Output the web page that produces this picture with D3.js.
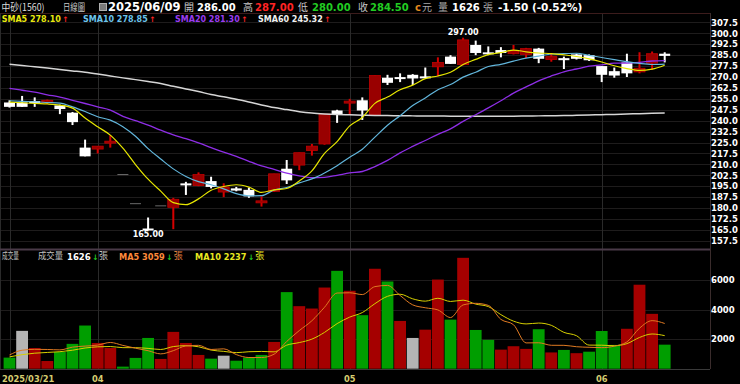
<!DOCTYPE html>
<html>
<head>
<meta charset="utf-8">
<script src="https://cdn.jsdelivr.net/npm/d3@7/dist/d3.min.js"></script>
<style>
html,body{margin:0;padding:0;background:#000;overflow:hidden;}
svg{display:block;}
</style>
</head>
<body>
<svg id="chart" width="740" height="384"></svg>
<script>
// ---------------- DATA ----------------
const stockName = "中砂(1560)";
const dates = [
 "2025/03/21","2025/03/24","2025/03/25","2025/03/26","2025/03/27","2025/03/28","2025/03/31",
 "2025/04/01","2025/04/02","2025/04/07","2025/04/08","2025/04/09","2025/04/10","2025/04/11",
 "2025/04/14","2025/04/15","2025/04/16","2025/04/17","2025/04/18","2025/04/21","2025/04/22",
 "2025/04/23","2025/04/24","2025/04/25","2025/04/28","2025/04/29","2025/04/30",
 "2025/05/02","2025/05/05","2025/05/06","2025/05/07","2025/05/08","2025/05/09","2025/05/12",
 "2025/05/13","2025/05/14","2025/05/15","2025/05/16","2025/05/19","2025/05/20","2025/05/21",
 "2025/05/22","2025/05/23","2025/05/26","2025/05/27","2025/05/28","2025/05/29",
 "2025/06/02","2025/06/03","2025/06/04","2025/06/05","2025/06/06","2025/06/09"
];
const opens  = [252.5,252.5,253,252.5,250.5,245.5,221.5,220.5,225,203,183,165.5,181.5,180.5,196.5,195.5,198.5,191,193.5,192.5,184,191.5,207,209.5,219.5,224,247,252.5,254,244,269.5,269.5,271.5,270,277,284,278.5,292,286.5,288.5,286,285.5,289.5,282,282.5,285.5,285,277.5,274,280,273.5,279.5,286];
const highs  = [254,257,256,254.5,251,246,227,222.5,230,203,183,173.5,181.5,187,198,204.5,201.5,197,194.5,194,188,203.5,213,218,224,244.5,247.5,255,256,271,271.5,272.5,272,276.5,283.5,285,297,295,291,290.5,292,290,290,286.5,284,286,285.5,277.5,276.5,286,287,287.5,287];
const lows   = [249,249.5,249.5,251.5,244.5,237,215.5,217.5,221.5,203,183,165,181.5,165.5,189,195,193.5,187.5,191.5,187,181,191,196.5,206,216,223.5,238.5,244.5,240.5,243.5,264.5,266.5,264.5,269.5,270.5,279,278,285,285,283.5,285.5,283,279.5,280.5,275.5,282,281,266.5,269.5,270,272.5,275,280];
const closes = [249.5,249.5,252.5,254,248,239,215.5,222.5,225.5,203,183,165,181.5,186,196,203,194.5,194.5,192,188,184.5,203.5,199,218,222.5,244.5,244,253,247,271,266,269,269,269.5,280,279,295.5,286.5,286,286.5,288,289.5,282.5,284,282,282.5,281.5,271.5,271,272.5,276,286,284.5];
const closeBefore = 251.0;
const volumes = [750,2560,1400,520,1130,1680,2920,1740,1400,140,730,2080,660,2490,1740,930,680,880,540,750,930,1810,5180,4230,4070,5490,6620,5270,3620,6760,5900,3230,2080,2640,6030,3320,7500,2620,1950,1290,1520,1340,2670,1100,1270,1050,1150,2550,1610,2700,5680,3710,1626];
const sma5  = [252.8,252.3,251.8,251.5,250.7,248.6,241.8,235.8,230.1,221.1,209.9,199.8,191.6,183.7,182.3,186.3,192.2,194.8,196.0,194.4,190.7,192.5,193.4,198.6,205.5,217.5,225.6,236.4,242.2,251.9,256.2,261.2,264.4,268.9,270.7,273.3,278.6,282.1,285.4,286.7,288.5,287.3,286.5,286.1,285.2,284.1,282.5,280.3,277.7,275.8,274.5,275.4,278.10];
const sma10 = [253.7,253.3,253.0,252.5,252.0,249.5,246.3,242.7,240.4,235.9,229.3,220.8,213.7,206.9,201.7,198.1,196.0,193.2,189.9,188.4,188.5,192.4,194.1,197.3,200.0,204.1,209.1,214.9,220.4,228.7,236.9,243.4,250.4,255.6,261.3,264.8,269.9,273.3,277.2,278.7,280.9,283.0,284.3,285.8,286.0,286.3,284.9,283.4,281.9,280.5,279.3,278.6,278.85];
const sma20 = [262.2,260.9,259.6,257.8,256.2,254.0,251.8,249.5,247.3,243.0,240.0,237.0,233.5,230.3,227.6,224.7,221.5,218.4,215.5,212.1,208.9,206.6,203.9,202.1,200.8,201.1,202.5,204.1,205.1,208.5,212.7,217.9,222.3,226.4,230.6,234.4,239.5,244.1,248.8,253.7,258.9,263.2,267.4,270.7,273.6,275.5,277.4,278.3,279.5,279.6,280.1,281.0,281.30];
const sma60 = [278.7,277.9,277.0,276.1,275.2,274.2,273.2,272.0,270.7,269.4,268.2,266.9,265.5,263.6,261.8,260.0,258.0,256.4,254.7,252.8,250.8,249.0,247.6,246.2,245.2,244.6,244.2,244.0,243.8,243.6,243.5,243.4,243.3,243.2,243.2,243.1,243.1,243.1,243.1,243.1,243.1,243.2,243.3,243.4,243.5,243.7,243.9,244.1,244.3,244.6,244.8,245.1,245.32];
const volMa5  = [930,1250,1310,1300,1272,1458,1530,1598,1774,1576,1386,1218,1002,1220,1540,1580,1300,1344,954,756,756,982,1842,2580,3244,4156,5118,5136,5014,5552,5634,4956,4318,4122,3976,3460,4314,4422,4284,3336,2976,1744,1754,1584,1580,1486,1448,1424,1526,1812,2738,3250,3059];
const volMa10 = [800,950,1050,1100,1150,1250,1400,1480,1500,1424,1422,1374,1300,1497,1558,1483,1259,1173,1087,1148,1168,1141,1593,1767,2000,2456,3050,3489,3797,4398,4895,5037,4727,4568,4764,4547,4635,4370,4203,3656,3218,3029,3088,2934,2458,2231,1596,1589,1555,1696,2112,2348,2237];
const priceTicks = [157.5,165.0,172.5,180.0,187.5,195.0,202.5,210.0,217.5,225.0,232.5,240.0,247.5,255.0,262.5,270.0,277.5,285.0,292.5,300.0,307.5];
const volumeTicks = [2000,4000,6000];
const xTickDates  = ["2025/03/21","2025/04/01","2025/05/02","2025/06/02"];
const xTickLabels = ["2025/03/21","04","05","06"];

// ---------------- LAYOUT ----------------
const svg = d3.select("#chart");
const n = dates.length;
const PL = 1, PR = 710, PT = 13, PB = 249, VB = 369;
const LAT = "'DejaVu Sans', Verdana, sans-serif";
const CJK = "'Noto Sans CJK TC', 'Noto Sans CJK SC', sans-serif";

const x = d3.scaleBand().domain(dates).range([3.2, 3.2 + n * 12.6]);
const bw = x.bandwidth();
const cx = i => x(dates[i]) + bw / 2;
const yP = d3.scaleLinear().domain([157.5, 307.5]).range([240.8, 22.4]);
const yV = d3.scaleLinear().domain([0, 6000]).range([368.7, 280]);

svg.append("rect").attr("width", 740).attr("height", 384).attr("fill", "#000");

const defs = svg.append("defs");
defs.append("clipPath").attr("id", "clipP").append("rect")
  .attr("x", PL).attr("y", PT).attr("width", PR - PL).attr("height", PB - PT);
defs.append("clipPath").attr("id", "clipV").append("rect")
  .attr("x", PL).attr("y", 251).attr("width", PR - PL).attr("height", VB - 251);

// grid lines
const gGrid = svg.append("g");
gGrid.append("g").selectAll("line").data(priceTicks).join("line")
  .attr("x1", PL).attr("x2", PR)
  .attr("y1", d => Math.round(yP(d)) + 0.5).attr("y2", d => Math.round(yP(d)) + 0.5)
  .attr("stroke", "#1e1c1c");
gGrid.append("g").selectAll("line").data(volumeTicks).join("line")
  .attr("x1", PL).attr("x2", PR)
  .attr("y1", d => Math.round(yV(d)) + 0.5).attr("y2", d => Math.round(yV(d)) + 0.5)
  .attr("stroke", "#1e1c1c");
gGrid.append("g").selectAll("line").data(xTickDates).join("line")
  .attr("x1", d => Math.round(x(d) + bw / 2) + 0.5).attr("x2", d => Math.round(x(d) + bw / 2) + 0.5)
  .attr("y1", PT).attr("y2", VB)
  .attr("stroke", "#2a2a2a");

// borders
const gB = svg.append("g");
gB.append("line").attr("x1", 0).attr("x2", PR).attr("y1", 13.5).attr("y2", 13.5).attr("stroke", "#3c1c1c");
gB.append("line").attr("x1", PR + 0.5).attr("x2", PR + 0.5).attr("y1", 13).attr("y2", VB).attr("stroke", "#3a2c2c");
gB.append("line").attr("x1", 0.5).attr("x2", 0.5).attr("y1", 13).attr("y2", VB).attr("stroke", "#2a2a2a");
gB.append("line").attr("x1", 0).attr("x2", PR).attr("y1", 249.5).attr("y2", 249.5).attr("stroke", "#4a3a48").attr("stroke-width", 2);
gB.append("line").attr("x1", 0).attr("x2", PR).attr("y1", 369.5).attr("y2", 369.5).attr("stroke", "#3a3a3a");

// ---------------- CANDLES ----------------
const gC = svg.append("g").attr("clip-path", "url(#clipP)");
const idx = d3.range(n);
const cw = 11;
idx.forEach(i => {
  const o = opens[i], h = highs[i], l = lows[i], c = closes[i];
  const xc = cx(i);
  if (h === l) {
    gC.append("line").attr("x1", xc - cw / 2).attr("x2", xc + cw / 2)
      .attr("y1", yP(c)).attr("y2", yP(c)).attr("stroke", "#6a6a6a").attr("stroke-width", 1);
    return;
  }
  const up = c > o;
  const wickCol = up ? "#d40000" : "#ffffff";
  gC.append("line").attr("x1", xc).attr("x2", xc).attr("y1", yP(h)).attr("y2", yP(l))
    .attr("stroke", wickCol).attr("stroke-width", 2);
  const top = yP(Math.max(o, c)), bot = yP(Math.min(o, c));
  let hgt = bot - top, yTop = top;
  if (hgt < 2) { yTop = (top + bot) / 2 - 1; hgt = 2; }
  gC.append("rect").attr("x", xc - cw / 2).attr("y", yTop).attr("width", cw).attr("height", hgt)
    .attr("fill", up ? "#990000" : "#ffffff")
    .attr("stroke", up ? "#c00000" : "none").attr("stroke-width", up ? 0.8 : 0);
});

// ---------------- MA LINES ----------------
const line = arr => d3.line().x((d, i) => cx(i)).y(d => yP(d)).curve(d3.curveMonotoneX)(arr);
const gL = svg.append("g").attr("clip-path", "url(#clipP)").attr("fill", "none");
gL.append("path").attr("d", line(sma60)).attr("stroke", "#d6d6d6").attr("stroke-width", 1.5);
gL.append("path").attr("d", line(sma20)).attr("stroke", "#8e2ee6").attr("stroke-width", 1.3);
gL.append("path").attr("d", line(sma10)).attr("stroke", "#62b6dc").attr("stroke-width", 1.2);
gL.append("path").attr("d", line(sma5)).attr("stroke", "#e6e600").attr("stroke-width", 1.2);

// max / min annotations
const iMax = d3.maxIndex(highs), iMin = d3.minIndex(lows);
svg.append("text").attr("x", cx(iMax)).attr("y", yP(highs[iMax]) - 2.3)
  .attr("text-anchor", "middle").attr("fill", "#fff").attr("font-family", LAT)
  .attr("font-weight", "bold").attr("font-size", 8).text(highs[iMax].toFixed(2));
svg.append("text").attr("x", cx(iMin)).attr("y", yP(lows[iMin]) + 7.6)
  .attr("text-anchor", "middle").attr("fill", "#fff").attr("font-family", LAT)
  .attr("font-weight", "bold").attr("font-size", 8).text(lows[iMin].toFixed(2));

// ---------------- VOLUME ----------------
const gV = svg.append("g").attr("clip-path", "url(#clipV)");
gV.selectAll("rect").data(idx).join("rect")
  .attr("x", i => x(dates[i]) + 0.4).attr("width", bw - 0.8)
  .attr("y", i => yV(volumes[i])).attr("height", i => yV(0) - yV(volumes[i]))
  .attr("fill", i => {
    const prev = i === 0 ? closeBefore : closes[i - 1];
    return closes[i] > prev ? "#a50000" : closes[i] < prev ? "#009e00" : "#b4b4b4";
  });
const vline = arr => d3.line().x((d, i) => cx(i)).y(d => yV(d)).curve(d3.curveMonotoneX)(arr);
gV.append("path").attr("d", vline(volMa10)).attr("fill", "none").attr("stroke", "#d8d000").attr("stroke-width", 1);
gV.append("path").attr("d", vline(volMa5)).attr("fill", "none").attr("stroke", "#e07a22").attr("stroke-width", 1);

// ---------------- AXES ----------------
const styleAxis = g => {
  g.select(".domain").remove();
  g.selectAll(".tick line").remove();
  g.selectAll("text").attr("fill", "#fff").attr("font-family", LAT)
    .attr("font-weight", "bold").attr("font-size", 8.5);
};
svg.append("g").attr("transform", "translate(711,0)")
  .call(d3.axisRight(yP).tickValues(priceTicks).tickSize(0).tickPadding(0).tickFormat(d3.format(".1f")))
  .call(styleAxis);
svg.append("g").attr("transform", "translate(711,0)")
  .call(d3.axisRight(yV).tickValues(volumeTicks).tickSize(0).tickPadding(0).tickFormat(d3.format("d")))
  .call(styleAxis);
const xAx = svg.append("g").attr("transform", "translate(0,373.5)")
  .call(d3.axisBottom(x).tickValues(xTickDates).tickSize(0).tickPadding(3)
    .tickFormat(d => xTickLabels[xTickDates.indexOf(d)]))
  .call(styleAxis);
xAx.selectAll("text").attr("fill", "#d6cc70").attr("font-size", 8.3);
xAx.selectAll(".tick").filter(d => d === xTickDates[0]).select("text")
  .attr("text-anchor", "start").attr("x", 2 - cx(0));

// ---------------- HEADER TEXT ----------------
function txt(x0, y0, s, fill, o = {}) {
  const t = svg.append("text").attr("x", x0).attr("y", y0).attr("fill", fill)
    .attr("font-family", o.cjk ? CJK : LAT)
    .attr("font-weight", o.bold ? "bold" : "normal")
    .attr("font-size", o.size || 10).text(s);
  if (o.len) t.attr("textLength", o.len).attr("lengthAdjust", "spacingAndGlyphs");
  return t;
}
const RED = "#ff2424", GRN = "#22cc22", LBL = "#c8c8c8";
// text followed by an arrow placed right after its measured end
function txtArrow(x0, y0, s, fill, size, arr) {
  const t = txt(x0, y0, s, fill, {bold: true, size: size});
  const end = x0 + t.node().getComputedTextLength();
  const up = arr[arr.length - 1] >= arr[arr.length - 2];
  const a = txt(end + 1.5, y0, up ? "↑" : "↓", up ? RED : GRN, {bold: true, size: 7.5});
  return end + 1.5 + a.node().getComputedTextLength();
}
const last = n - 1;
const f2 = v => v.toFixed(2);
const chg = closes[last] - closes[last - 1];
const pct = chg / closes[last - 1] * 100;

// row 1
txt(1.5, 10.5, stockName, "#dcdcdc", {cjk: true, size: 10, len: 43});
txt(63, 10.5, "日線圖", LBL, {cjk: true, size: 10, len: 22});
svg.append("rect").attr("x", 99.5).attr("y", 3.5).attr("width", 7).attr("height", 7)
  .attr("fill", "#7a7a7a").attr("stroke", "#b0b0b0").attr("stroke-width", 1);
txt(108, 11, dates[last], "#fff", {bold: true, size: 11.5});
txt(184, 10.5, "開", LBL, {cjk: true, size: 10});
txt(197, 11, f2(opens[last]), "#fff", {bold: true, size: 10});
txt(243, 10.5, "高", LBL, {cjk: true, size: 10});
txt(255, 11, f2(highs[last]), RED, {bold: true, size: 10});
txt(298, 10.5, "低", LBL, {cjk: true, size: 10});
txt(312, 11, f2(lows[last]), GRN, {bold: true, size: 10});
txt(358, 10.5, "收", LBL, {cjk: true, size: 10});
txt(370, 11, f2(closes[last]), GRN, {bold: true, size: 10});
txt(415, 11, "c", "#e08a1e", {bold: true, size: 10});
txt(422, 10.5, "元", "#a8a8a8", {cjk: true, size: 10});
txt(438, 10.5, "量", "#a8a8a8", {cjk: true, size: 10});
txt(452, 11, String(volumes[last]), "#fff", {bold: true, size: 10});
txt(483, 10.5, "張", "#a8a8a8", {cjk: true, size: 10});
txt(498, 11, `${f2(chg)} (${f2(pct)}%)`, "#fff", {bold: true, size: 10.5});

// row 2 : moving averages
const maItems = [
  {name: "SMA5", arr: sma5, col: "#e8e810", x: 1.7},
  {name: "SMA10", arr: sma10, col: "#6cc4ec", x: 83},
  {name: "SMA20", arr: sma20, col: "#9a3cf0", x: 175},
  {name: "SMA60", arr: sma60, col: "#f0f0f0", x: 258}
];
maItems.forEach(m => {
  txtArrow(m.x, 21.5, `${m.name} ${f2(m.arr[m.arr.length - 1])}`, m.col, 8, m.arr);
});

// volume header row
txt(2, 259, "成交量", "#c0c0c0", {cjk: true, size: 9, len: 17});
txt(38, 259, "成交量", "#c0c0c0", {cjk: true, size: 9, len: 25});
let e = txtArrow(67, 259.5, String(volumes[last]), "#fff", 8.5, volumes);
txt(e + 0.5, 259, "張", "#c0c0c0", {cjk: true, size: 9});
e = txtArrow(119, 259.5, `MA5 ${volMa5[last]}`, "#ff8a3a", 8.2, volMa5);
txt(e + 1, 259, "張", "#e08040", {cjk: true, size: 9});
e = txtArrow(195, 259.5, `MA10 ${volMa10[last]}`, "#e8e820", 8.2, volMa10);
txt(e + 1, 259, "張", "#e8e820", {cjk: true, size: 9});
</script>
</body>
</html>
